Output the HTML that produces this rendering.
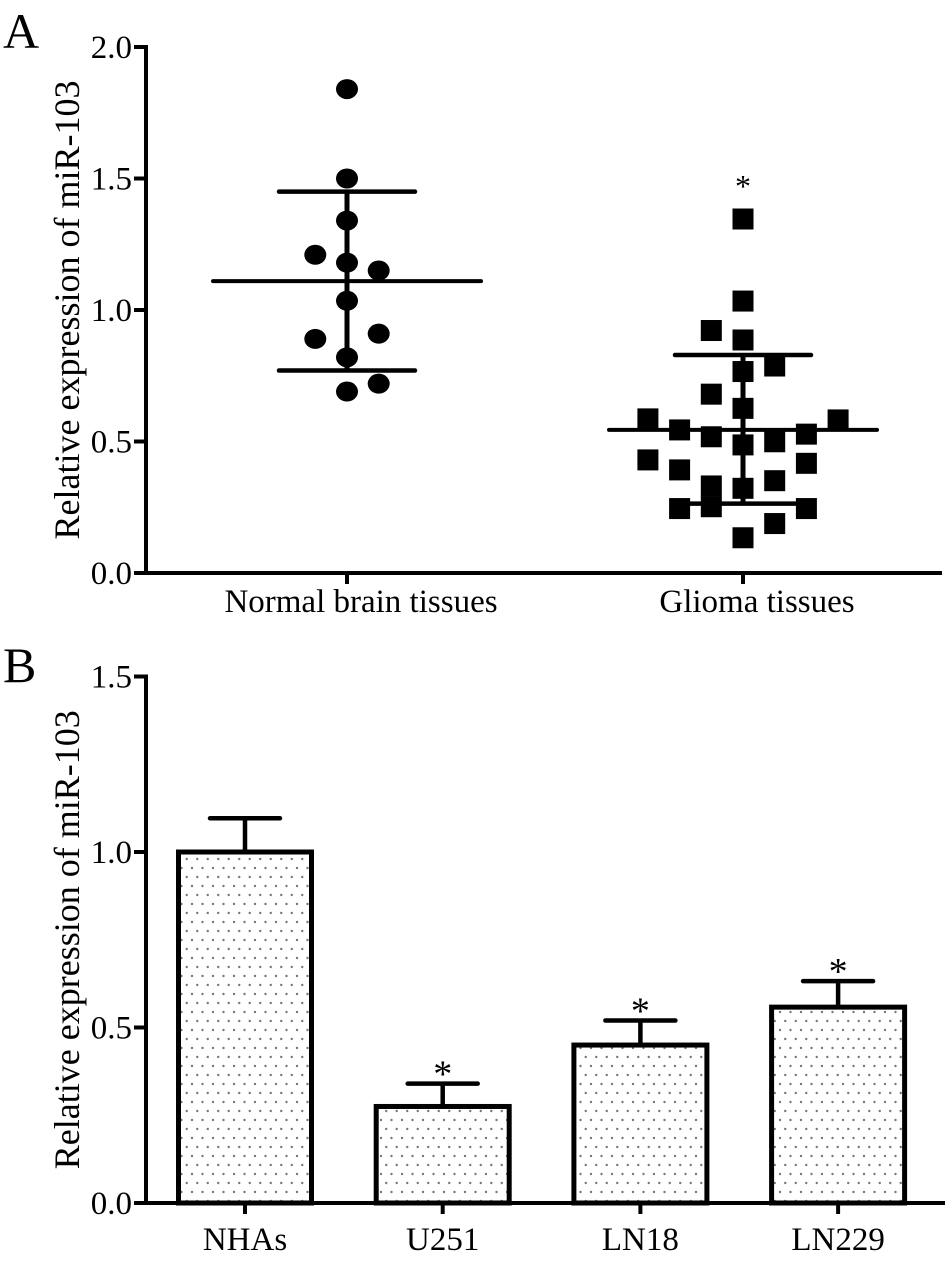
<!DOCTYPE html>
<html><head><meta charset="utf-8"><style>
body{margin:0;background:#fff}
svg{display:block}
text{font-family:"Liberation Serif",serif;fill:#000}
</style></head><body>
<svg id="fig" width="945" height="1265" viewBox="0 0 945 1265">
<defs>
<pattern id="dots" width="10.5" height="18" patternUnits="userSpaceOnUse">
<circle cx="3" cy="4" r="1.2" fill="#777"/><circle cx="8.25" cy="13" r="1.2" fill="#777"/>
</pattern>
</defs>
<text x="3" y="48" font-size="50">A</text>
<text x="3" y="682" font-size="50">B</text>
<g id="pa"></g>
<g id="pb"></g>
</svg>
<script>
// Panel A data
const aTicks = [0, 0.5, 1.0, 1.5, 2.0];
const aCategories = ["Normal brain tissues", "Glioma tissues"];
const normalValues = [1.84, 1.50, 1.34, 1.21, 1.18, 1.15, 1.035, 0.89, 0.91, 0.82, 0.69, 0.72];
const normalCols = [0, 0, 0, -1, 0, 1, 0, -1, 1, 0, 0, 1];
const normalMean = 1.11, normalSdHi = 1.45, normalSdLo = 0.77;
const gliomaValues = [1.346, 1.034, 0.922, 0.886, 0.787, 0.766, 0.680, 0.626, 0.586, 0.582, 0.544, 0.518, 0.487, 0.499, 0.528, 0.43, 0.392, 0.417, 0.331, 0.322, 0.351, 0.245, 0.252, 0.245, 0.188, 0.134];
const gliomaCols = [0, 0, -1, 0, 1, 0, -1, 0, -3, 3, -2, -1, 0, 1, 2, -3, -2, 2, -1, 0, 1, -2, -1, 2, 1, 0];
const gliomaMean = 0.544, gliomaSdHi = 0.829, gliomaSdLo = 0.264;
// Panel B data
const bTicks = [0, 0.5, 1.0, 1.5];
const bCategories = ["NHAs", "U251", "LN18", "LN229"];
const bValues = [1.0, 0.275, 0.45, 0.558];
const bErrors = [0.096, 0.065, 0.07, 0.074];
const bStars = [false, true, true, true];

const NS = "http://www.w3.org/2000/svg";
function mk(parent, tag, attrs, txt){
  const e = document.createElementNS(NS, tag);
  for (const k in attrs) e.setAttribute(k, attrs[k]);
  if (txt !== undefined) e.textContent = txt;
  parent.appendChild(e); return e;
}
const axX = 146;
const tickFont = 33, titleFont = 36, catFont = 33;
// ---- Panel A
const pa = document.getElementById('pa');
const ayA = v => 573 - v * 263;
const axA = i => [347, 743][i];
const colW = 31.7;
let e;
e = mk(pa,'line',{x1:axX,y1:ayA(2.0)-2,x2:axX,y2:ayA(0)+2,stroke:'#000','stroke-width':4});
 
e = mk(pa,'line',{x1:axX-12,y1:ayA(0),x2:942,y2:ayA(0),stroke:'#000','stroke-width':4});
 
aTicks.forEach(t=>{
  e = mk(pa,'line',{x1:axX-12,y1:ayA(t),x2:axX,y2:ayA(t),stroke:'#000','stroke-width':4});
   
  e = mk(pa,'text',{x:axX-14,y:ayA(t)+11,'font-size':tickFont,'text-anchor':'end'},t.toFixed(1));
   
});
aCategories.forEach((c,i)=>{
  e = mk(pa,'line',{x1:axA(i),y1:ayA(0),x2:axA(i),y2:ayA(0)+11,stroke:'#000','stroke-width':4});
   
  e = mk(pa,'text',{x:axA(i)+14,y:ayA(0)+39,'font-size':catFont,'text-anchor':'middle'},c);
   
});
e = mk(pa,'text',{x:0,y:0,'font-size':titleFont,'text-anchor':'middle',transform:`translate(79,${ayA(1.0)}) rotate(-90)`},'Relative expression of miR-103');
 
function meanSd(i, m, hi, lo){
  const x = axA(i);
  e = mk(pa,'line',{x1:x,y1:ayA(hi),x2:x,y2:ayA(lo),stroke:'#000','stroke-width':5});
   
  e = mk(pa,'line',{x1:x-134,y1:ayA(m),x2:x+134,y2:ayA(m),stroke:'#000','stroke-width':4,'stroke-linecap':'round'});
   
  [hi,lo].forEach(v=>{
    e = mk(pa,'line',{x1:x-68,y1:ayA(v),x2:x+68,y2:ayA(v),stroke:'#000','stroke-width':4.5,'stroke-linecap':'round'});
     
  });
}
meanSd(0, normalMean, normalSdHi, normalSdLo);
meanSd(1, gliomaMean, gliomaSdHi, gliomaSdLo);
normalValues.forEach((v,k)=>{
  e = mk(pa,'ellipse',{cx:axA(0)+normalCols[k]*colW,cy:ayA(v),rx:11,ry:10,fill:'#000'});
   
});
gliomaValues.forEach((v,k)=>{
  e = mk(pa,'rect',{x:axA(1)+gliomaCols[k]*colW-10.5,y:ayA(v)-10.5,width:21,height:21,fill:'#000'});
   
});
e = mk(pa,'text',{x:axA(1),y:ayA(Math.max(...gliomaValues))-22,'font-size':32,'text-anchor':'middle'},'*');
 

// ---- Panel B
const pb = document.getElementById('pb');
const ayB = v => 1203 - v * 351;
const axB = i => 245 + i * 197.7;
const bw = 133;
e = mk(pb,'line',{x1:axX,y1:ayB(1.5)-2,x2:axX,y2:ayB(0)+2,stroke:'#000','stroke-width':4});
 
e = mk(pb,'line',{x1:axX-12,y1:ayB(0),x2:945,y2:ayB(0),stroke:'#000','stroke-width':4});
 
bTicks.forEach(t=>{
  e = mk(pb,'line',{x1:axX-12,y1:ayB(t),x2:axX,y2:ayB(t),stroke:'#000','stroke-width':4});
   
  e = mk(pb,'text',{x:axX-14,y:ayB(t)+11,'font-size':tickFont,'text-anchor':'end'},t.toFixed(1));
   
});
e = mk(pb,'text',{x:0,y:0,'font-size':titleFont,'text-anchor':'middle',transform:`translate(79,${ayB(0.75)}) rotate(-90)`},'Relative expression of miR-103');
 
bCategories.forEach((c,i)=>{
  const x = axB(i), top = ayB(bValues[i]), et = ayB(bValues[i]+bErrors[i]);
  e = mk(pb,'line',{x1:x,y1:top,x2:x,y2:et,stroke:'#000','stroke-width':4.5});
   
  e = mk(pb,'line',{x1:x-35,y1:et,x2:x+35,y2:et,stroke:'#000','stroke-width':4.5,'stroke-linecap':'round'});
   
  e = mk(pb,'rect',{x:x-bw/2,y:top,width:bw,height:ayB(0)-top,fill:'url(#dots)',stroke:'#000','stroke-width':5});
   
  if (bStars[i]) {
    e = mk(pb,'text',{x:x,y:et+3,'font-size':38,'text-anchor':'middle'},'*');
     
  }
  e = mk(pb,'line',{x1:x,y1:ayB(0),x2:x,y2:ayB(0)+11,stroke:'#000','stroke-width':4});
   
  e = mk(pb,'text',{x:x,y:ayB(0)+47,'font-size':catFont,'text-anchor':'middle'},c);
   
});
</script>
</body></html>
